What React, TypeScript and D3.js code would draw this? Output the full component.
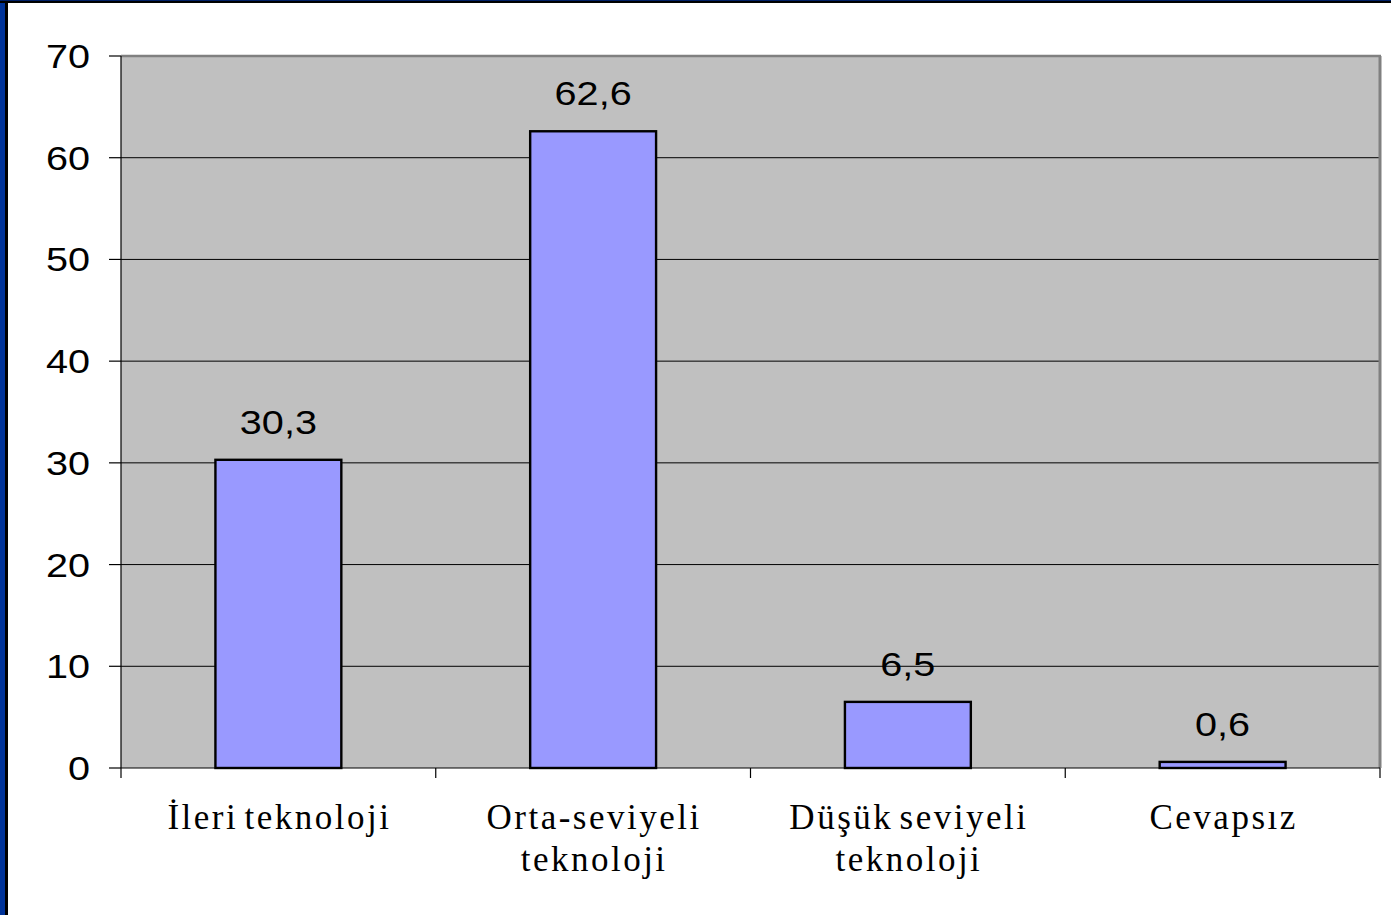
import React from "react";
import * as d3 from "d3";

const categories: string[][] = [
  ["İleri teknoloji"],
  ["Orta-seviyeli", "teknoloji"],
  ["Düşük seviyeli", "teknoloji"],
  ["Cevapsız"],
];
const values: number[] = [30.3, 62.6, 6.5, 0.6];
const valueLabels: string[] = ["30,3", "62,6", "6,5", "0,6"];
const yTicks: number[] = [0, 10, 20, 30, 40, 50, 60, 70];

export default function App() {
  const W = 1391, H = 915;
  const left = 121, right = 1380, top = 56, bottom = 768;
  const x = d3.scaleBand<number>().domain(d3.range(values.length)).range([left, right]).paddingInner(0).paddingOuter(0);
  const y = d3.scaleLinear().domain([0, 70]).range([bottom, top]);
  const bw = x.bandwidth() * 0.4;
  const sans = "'Liberation Sans', Arial, sans-serif";
  const serif = "'Liberation Serif', 'Times New Roman', serif";
  return (
    <svg width={W} height={H} style={{ position: "absolute", left: 0, top: 0, background: "#fff" }}>
      <rect x={0} y={0} width={W} height={H} fill="#fff" />
      {/* frame left/top */}
      <rect x={0} y={0} width={6} height={H} fill="#003399" />
      <rect x={5} y={0} width={3} height={H} fill="#000" />
      <rect x={0} y={0} width={W} height={2} fill="#001f66" />
      <rect x={0} y={1} width={W} height={2} fill="#000" />
      {/* plot area */}
      <rect x={left} y={top} width={right - left} height={bottom - top} fill="#C0C0C0" />
      {yTicks.filter(t => t > 0 && t < 70).map(t => (
        <line key={t} x1={left} x2={right} y1={y(t)} y2={y(t)} stroke="#000" strokeWidth={1} />
      ))}
      <line x1={left} x2={right + 1} y1={top} y2={top} stroke="#808080" strokeWidth={2.5} />
      <line x1={right} x2={right} y1={top} y2={bottom} stroke="#808080" strokeWidth={3} />
      {/* bars */}
      {values.map((v, i) => (
        <rect key={i} x={(x(i) as number) + (x.bandwidth() - bw) / 2} y={y(v)} width={bw} height={y(0) - y(v)}
          fill="#9999FF" stroke="#000" strokeWidth={2.4} />
      ))}
      {/* axes */}
      <line x1={left} x2={left} y1={top} y2={bottom} stroke="#000" strokeWidth={1.2} />
      <line x1={left} x2={right} y1={bottom} y2={bottom} stroke="#000" strokeWidth={1.2} />
      {yTicks.map(t => (
        <g key={t}>
          <line x1={109} x2={left} y1={y(t)} y2={y(t)} stroke="#000" strokeWidth={1.2} />
          <g transform={`translate(90,${y(t) + 12}) scale(1.2,1)`}>
            <text textAnchor="end" fontFamily={sans} fontSize={33} fill="#000">{t}</text>
          </g>
        </g>
      ))}
      {d3.range(values.length + 1).map(i => {
        const xx = i < values.length ? (x(i) as number) : right;
        return <line key={i} x1={xx} x2={xx} y1={bottom} y2={bottom + 10} stroke="#000" strokeWidth={1.2} />;
      })}
      {/* value labels */}
      {values.map((v, i) => (
        <g key={i} transform={`translate(${(x(i) as number) + x.bandwidth() / 2},${y(v) - 26}) scale(1.2,1)`}>
          <text textAnchor="middle" fontFamily={sans} fontSize={33} fill="#000">{valueLabels[i]}</text>
        </g>
      ))}
      {/* category labels */}
      {categories.map((lines, i) => (
        <text key={i} textAnchor="middle" fontFamily={serif} fontSize={35} fill="#000" letterSpacing={2.5} wordSpacing={-5}>
          {lines.map((l, j) => (
            <tspan key={j} x={(x(i) as number) + x.bandwidth() / 2 + 1} y={829 + j * 42}>{l}</tspan>
          ))}
        </text>
      ))}
    </svg>
  );
}
